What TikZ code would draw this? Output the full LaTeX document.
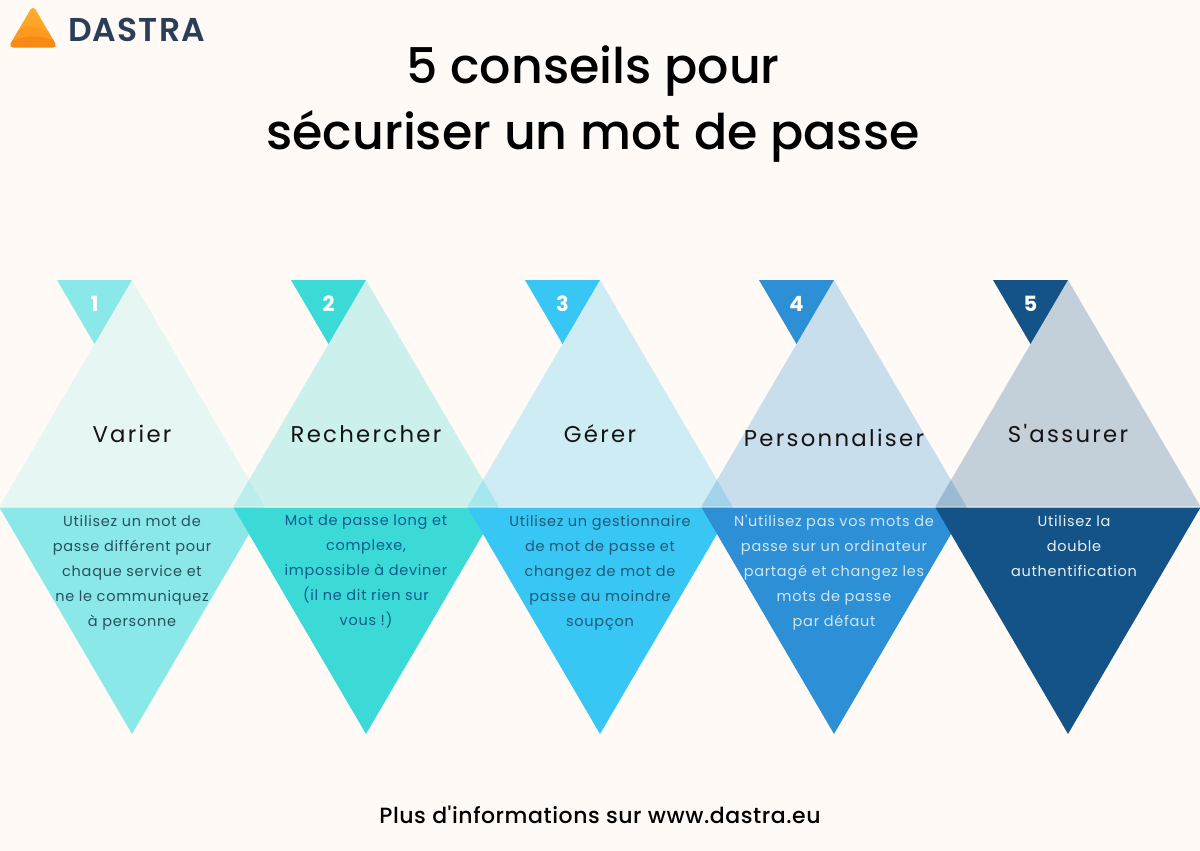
\documentclass[tikz,border=0pt]{standalone}
\usepackage{fontspec}
\usepackage{tikz}
\setmainfont{Poppins}
\newfontfamily\medfont{Poppins Medium}
\newfontfamily\footfont[LetterSpace=2.5]{Poppins Medium}
\newfontfamily\headfont[LetterSpace=10]{Poppins}
\newfontfamily\bodyfont[LetterSpace=5]{Poppins}
\newfontfamily\logofont[LetterSpace=3.5]{Poppins SemiBold}
\definecolor{bgcream}{HTML}{FFFAF5}
\definecolor{tipA}{HTML}{8AE9E8}
\definecolor{tipB}{HTML}{3CDAD7}
\definecolor{tipC}{HTML}{38C6F4}
\definecolor{tipD}{HTML}{2D8FD5}
\definecolor{tipE}{HTML}{145388}
\definecolor{inkA}{HTML}{27505C}
\definecolor{inkB}{HTML}{0C5C8C}
\definecolor{inkC}{HTML}{1F5A78}
\definecolor{inkD}{HTML}{CFE6F6}
\definecolor{inkE}{HTML}{E6F0F8}
\definecolor{logoink}{HTML}{2A3F57}
\definecolor{logotop}{HTML}{FFAE2E}
\definecolor{logomid}{HTML}{FB9A1E}
\definecolor{logolow}{HTML}{F58A14}
\tikzset{
	headlabel/.style={font=\headfont\fontsize{22.8}{26}\selectfont,text=black!92,inner sep=0pt},
	bodylabel/.style={font=\bodyfont\fontsize{14.5}{25}\selectfont,align=center,anchor=north,inner sep=0pt},
	numlabel/.style={font=\bfseries\fontsize{21}{24}\selectfont,text=white,inner sep=0pt}
}

\begin{document}
\begin{tikzpicture}[x=1pt,y=-1pt]
	\useasboundingbox (0,0) rectangle (1200,851);
	\fill[bgcream] (0,0) rectangle (1200,851);
	% logo
	\begin{scope}
		\clip[rounded corners=5pt] (8.5,47.5) -- (33,5) -- (57.5,47.5) -- cycle;
		\shade[top color=logotop,bottom color=logomid] (8,9) rectangle (58,48);
		\fill[logomid] (8,38) .. controls (20,28) and (28,24) .. (34,27) .. controls (40,30) and (46,30) .. (58,34) -- (58,48) -- (8,48) -- cycle;
		\fill[logolow] (8,43) .. controls (22,36) and (34,34) .. (58,41) -- (58,48) -- (8,48) -- cycle;
	\end{scope}
	\node[font=\logofont\fontsize{33}{33}\selectfont,text=logoink,inner sep=0pt] (logo) at (136.5,30) {DASTRA};
	\node[font=\medfont\fontsize{49.1}{66}\selectfont,align=center,inner sep=0pt] (title) at (593,104) {5 conseils pour\\sécuriser un mot de passe};
	% upper triangles
	\foreach \x/\tip/\op in {132/tipA/.21,366/tipB/.26,600/tipC/.25,834/tipD/.26,1068/tipE/.25}
		\fill[\tip,opacity=\op] (\x-132.5,506.5) -- (\x,280) -- (\x+132.5,506.5) -- cycle;
	% lower triangles and tips
	\foreach \x/\tip in {132/tipA,366/tipB,600/tipC,834/tipD,1068/tipE}{
		\fill[\tip] (\x-132.5,507.5) -- (\x+132.5,507.5) -- (\x,734) -- cycle;
		\fill[\tip] (\x-75,280) -- (\x,280) -- (\x-37.5,344) -- cycle;
	}
	\foreach \i/\x/\yy/\word in {1/132/434/Varier,2/366/434/Rechercher,3/600/434/Gérer,4/834/438/Personnaliser,5/1068/434/S'assurer}{
		\node[numlabel] (num\i) at (\x-37.5,304) {\i};
		\node[headlabel] (head\i) at (\x,\yy) {\word};
	}
	\node[bodylabel,text=inkA] (body1) at (132,515) {Utilisez un mot de\\passe différent pour\\chaque service et\\ne le communiquez\\à personne};
	\node[bodylabel,text=inkB] (body2) at (366,515) {Mot de passe long et\\complexe,\\impossible à deviner\\(il ne dit rien sur\\vous !)};
	\node[bodylabel,text=inkC] (body3) at (600,515) {Utilisez un gestionnaire\\de mot de passe et\\changez de mot de\\passe au moindre\\soupçon};
	\node[bodylabel,text=inkD] (body4) at (834,515) {N'utilisez pas vos mots de\\passe sur un ordinateur\\partagé et changez les\\mots de passe\\par défaut};
	\node[bodylabel,text=inkE] (body5) at (1074,515) {Utilisez la\\double\\authentification};
	\node[font=\footfont\fontsize{22}{26}\selectfont,inner sep=0pt] (foot) at (600,815) {Plus d'informations sur www.dastra.eu};
\end{tikzpicture}
\end{document}
